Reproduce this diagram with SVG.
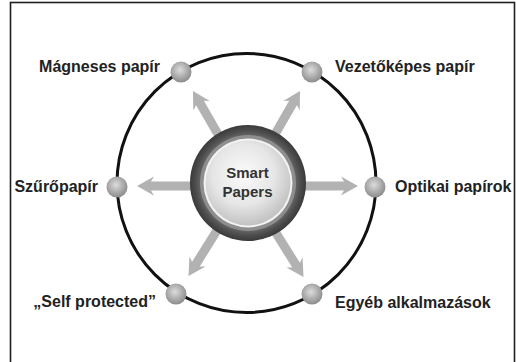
<svg xmlns="http://www.w3.org/2000/svg" width="516" height="362" viewBox="0 0 516 362">
<defs>
<radialGradient id="ball" cx="45%" cy="40%" r="60%">
<stop offset="0" stop-color="#dcdcdc"/>
<stop offset="0.6" stop-color="#ababab"/>
<stop offset="1" stop-color="#8c8c8c"/>
</radialGradient>
<radialGradient id="ringG" cx="50%" cy="50%" r="50%">
<stop offset="0.8" stop-color="#6a6a6a"/>
<stop offset="0.9" stop-color="#4e4e4e"/>
<stop offset="1" stop-color="#3a3a3a"/>
</radialGradient>
<radialGradient id="core" cx="45%" cy="40%" r="60%">
<stop offset="0" stop-color="#fbfbfb"/>
<stop offset="0.6" stop-color="#e6e6e6"/>
<stop offset="1" stop-color="#c2c2c2"/>
</radialGradient>
<path id="arr" d="M0,0 L-17,-9.5 L-14,-4.5 L-60,-4.5 L-60,4.5 L-14,4.5 L-17,9.5 Z"/>
</defs>
<style>
.lbl{font-family:"Liberation Sans",Arial,sans-serif;font-weight:bold;font-size:16px;fill:#222}
.ctr{font-family:"Liberation Sans",Arial,sans-serif;font-weight:bold;font-size:15px;fill:#333;text-anchor:middle}
.node{fill:url(#ball)}
.a{fill:#b2b2b2}
</style>
<rect x="0" y="0" width="516" height="362" fill="#fff"/>
<rect x="10.5" y="2.5" width="504" height="420" fill="#fff" stroke="#1e1e1e" stroke-width="1.6"/>
<circle cx="246.5" cy="183" r="129.5" fill="none" stroke="#111" stroke-width="3"/>
<g id="connectors">
<use href="#arr" class="a" transform="translate(137,186) rotate(180)"/>
<use href="#arr" class="a" transform="translate(358,186)"/>
<use href="#arr" class="a" transform="translate(193,91) rotate(-120)"/>
<use href="#arr" class="a" transform="translate(300,91) rotate(-60)"/>
<use href="#arr" class="a" transform="translate(188.5,276) rotate(122)"/>
<use href="#arr" class="a" transform="translate(303.5,277) rotate(58)"/>
</g>
<g id="center">
<circle cx="248" cy="183" r="58" fill="url(#ringG)"/>
<circle cx="248" cy="183" r="48" fill="#8e8e8e"/>
<circle cx="248" cy="183" r="44.5" fill="#f2f2f2"/>
<circle cx="248" cy="183" r="42.5" fill="url(#core)"/>
<text class="ctr" x="247.5" y="178">Smart</text>
<text class="ctr" x="247.5" y="197">Papers</text>
</g>
<g id="n-magneses">
<circle class="node" cx="181" cy="72" r="10.5"/>
<text class="lbl" x="160" y="72" text-anchor="end">Mágneses papír</text>
</g>
<g id="n-vezetokepes">
<circle class="node" cx="312" cy="72" r="10.5"/>
<text class="lbl" x="335" y="72">Vezetőképes papír</text>
</g>
<g id="n-szuro">
<circle class="node" cx="117" cy="187" r="10.5"/>
<text class="lbl" x="98" y="192" text-anchor="end">Szűrőpapír</text>
</g>
<g id="n-optikai">
<circle class="node" cx="375" cy="187" r="10.5"/>
<text class="lbl" x="395" y="192">Optikai papírok</text>
</g>
<g id="n-self">
<circle class="node" cx="176" cy="294" r="10.5"/>
<text class="lbl" x="156" y="307" text-anchor="end">„Self protected”</text>
</g>
<g id="n-egyeb">
<circle class="node" cx="312" cy="294" r="10.5"/>
<text class="lbl" x="335" y="308">Egyéb alkalmazások</text>
</g>
</svg>
